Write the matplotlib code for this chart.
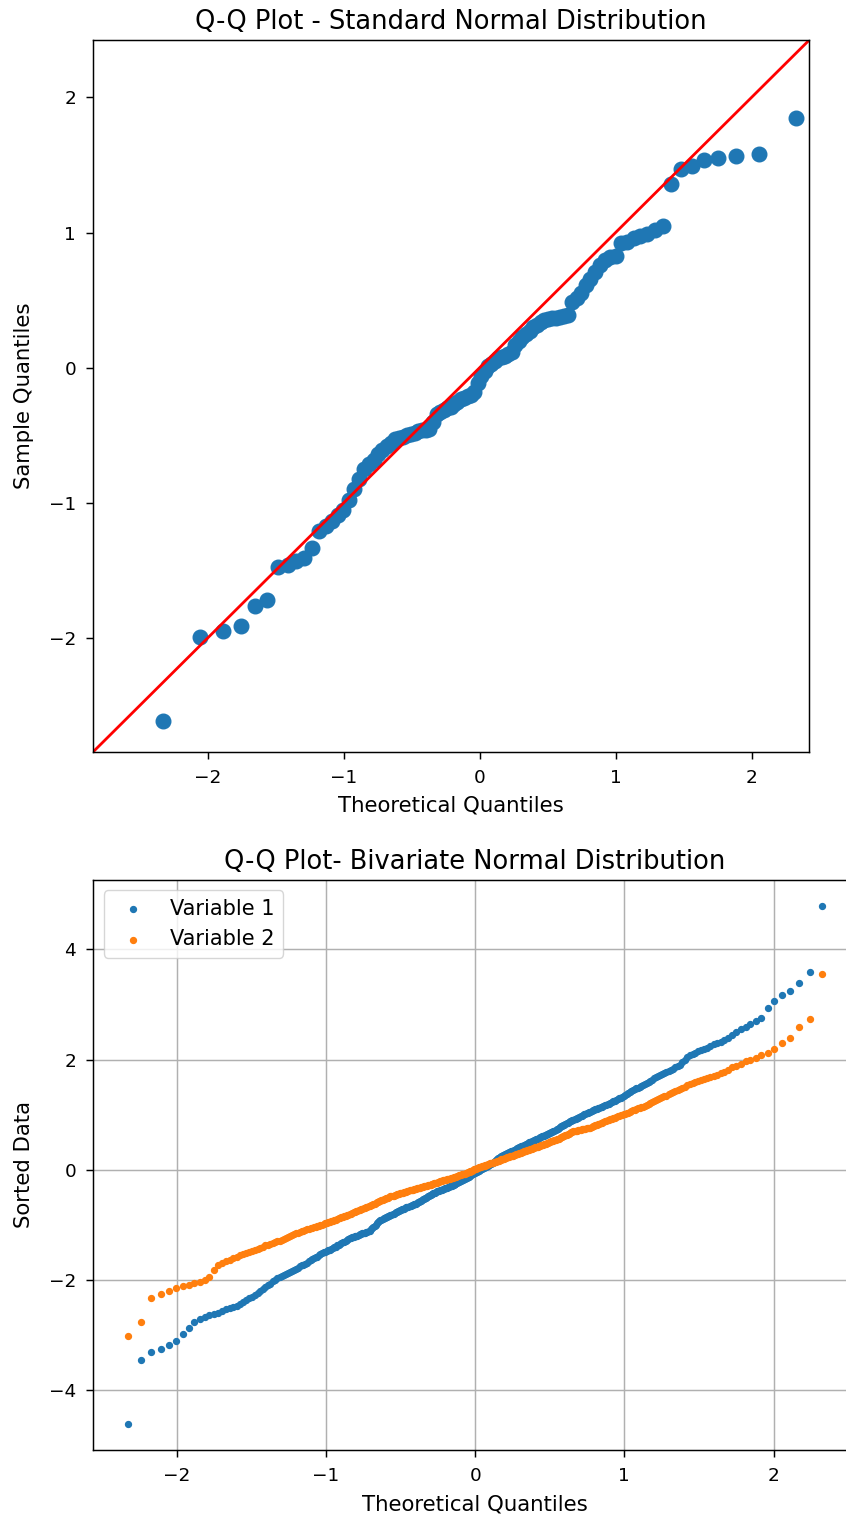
import numpy as np
import matplotlib
matplotlib.use("Agg")
import matplotlib.pyplot as plt
from statistics import NormalDist

# ---------------- data ----------------
# Sorted sample of 100 draws (top panel)
sample_sorted = [
    -2.61, -1.99, -1.95, -1.91, -1.76, -1.72, -1.47, -1.46, -1.43, -1.41,
    -1.33, -1.21, -1.17, -1.13, -1.09, -1.05, -0.98, -0.90, -0.82, -0.75,
    -0.71, -0.68, -0.64, -0.61, -0.58, -0.56, -0.53, -0.52, -0.51, -0.50,
    -0.49, -0.48, -0.47, -0.46, -0.46, -0.45, -0.40, -0.34, -0.33, -0.31,
    -0.30, -0.29, -0.27, -0.25, -0.23, -0.22, -0.21, -0.20, -0.18, -0.11,
    -0.06, -0.02, 0.01, 0.03, 0.05, 0.07, 0.08, 0.09, 0.10, 0.12,
    0.17, 0.20, 0.23, 0.25, 0.27, 0.30, 0.32, 0.34, 0.355, 0.36,
    0.365, 0.37, 0.375, 0.38, 0.39, 0.49, 0.52, 0.55, 0.61, 0.66,
    0.71, 0.76, 0.80, 0.82, 0.83, 0.92, 0.93, 0.96, 0.975, 0.99,
    1.02, 1.05, 1.36, 1.47, 1.49, 1.54, 1.555, 1.57, 1.58, 1.85,
]

# Sorted bivariate sample, one list per variable (bottom panel)
var1_sorted = [
    -4.61, -3.45, -3.31, -3.24, -3.17, -3.11, -2.97, -2.86, -2.76, -2.70,
    -2.67, -2.64, -2.62, -2.59, -2.56, -2.53, -2.51, -2.49, -2.47, -2.43,
    -2.40, -2.36, -2.33, -2.30, -2.27, -2.23, -2.19, -2.16, -2.13, -2.09,
    -2.06, -2.02, -1.99, -1.96, -1.94, -1.92, -1.91, -1.89, -1.87, -1.85,
    -1.83, -1.81, -1.79, -1.77, -1.75, -1.73, -1.72, -1.70, -1.68, -1.66,
    -1.64, -1.62, -1.60, -1.58, -1.57, -1.55, -1.53, -1.51, -1.49, -1.48,
    -1.47, -1.46, -1.45, -1.43, -1.42, -1.40, -1.39, -1.37, -1.36, -1.34,
    -1.33, -1.31, -1.30, -1.28, -1.27, -1.25, -1.24, -1.23, -1.22, -1.21,
    -1.20, -1.19, -1.19, -1.18, -1.17, -1.16, -1.15, -1.14, -1.14, -1.13,
    -1.12, -1.11, -1.10, -1.08, -1.06, -1.03, -1.01, -0.99, -0.97, -0.95,
    -0.93, -0.915, -0.90, -0.89, -0.88, -0.87, -0.86, -0.85, -0.84, -0.83,
    -0.82, -0.81, -0.80, -0.79, -0.78, -0.77, -0.76, -0.75, -0.74, -0.73,
    -0.72, -0.715, -0.71, -0.70, -0.69, -0.68, -0.67, -0.665, -0.66, -0.65,
    -0.64, -0.63, -0.62, -0.615, -0.61, -0.60, -0.59, -0.58, -0.57, -0.555,
    -0.54, -0.53, -0.52, -0.51, -0.50, -0.49, -0.48, -0.47, -0.46, -0.45,
    -0.44, -0.43, -0.42, -0.415, -0.41, -0.40, -0.39, -0.385, -0.38, -0.37,
    -0.36, -0.355, -0.35, -0.34, -0.33, -0.325, -0.32, -0.315, -0.31, -0.30,
    -0.29, -0.285, -0.28, -0.27, -0.26, -0.25, -0.24, -0.23, -0.22, -0.21,
    -0.20, -0.195, -0.19, -0.18, -0.17, -0.16, -0.15, -0.14, -0.13, -0.12,
    -0.11, -0.10, -0.09, -0.08, -0.07, -0.06, -0.05, -0.04, -0.03, -0.02,
    -0.01, 0.00, 0.01, 0.02, 0.03, 0.04, 0.05, 0.055, 0.06, 0.07,
    0.08, 0.09, 0.10, 0.11, 0.12, 0.135, 0.15, 0.165, 0.18, 0.195,
    0.21, 0.22, 0.23, 0.24, 0.25, 0.26, 0.27, 0.28, 0.29, 0.295,
    0.30, 0.31, 0.32, 0.33, 0.34, 0.345, 0.35, 0.36, 0.37, 0.38,
    0.39, 0.40, 0.41, 0.42, 0.43, 0.435, 0.44, 0.45, 0.46, 0.47,
    0.48, 0.49, 0.50, 0.505, 0.51, 0.52, 0.53, 0.54, 0.55, 0.555,
    0.56, 0.57, 0.58, 0.59, 0.60, 0.61, 0.62, 0.625, 0.63, 0.64,
    0.65, 0.66, 0.67, 0.675, 0.68, 0.69, 0.70, 0.71, 0.72, 0.735,
    0.75, 0.765, 0.78, 0.79, 0.80, 0.81, 0.82, 0.835, 0.85, 0.86,
    0.87, 0.88, 0.89, 0.90, 0.91, 0.92, 0.93, 0.94, 0.95, 0.96,
    0.97, 0.985, 1.00, 1.01, 1.02, 1.03, 1.04, 1.05, 1.06, 1.07,
    1.08, 1.09, 1.10, 1.11, 1.12, 1.13, 1.14, 1.15, 1.16, 1.17,
    1.18, 1.19, 1.20, 1.215, 1.23, 1.245, 1.26, 1.275, 1.29, 1.30,
    1.31, 1.325, 1.34, 1.36, 1.38, 1.395, 1.41, 1.43, 1.45, 1.465,
    1.48, 1.495, 1.51, 1.525, 1.54, 1.555, 1.57, 1.595, 1.62, 1.64,
    1.66, 1.68, 1.70, 1.72, 1.74, 1.76, 1.78, 1.80, 1.82, 1.84,
    1.86, 1.885, 1.91, 1.95, 2.00, 2.05, 2.08, 2.11, 2.13, 2.155,
    2.18, 2.20, 2.22, 2.25, 2.28, 2.30, 2.33, 2.36, 2.40, 2.45,
    2.50, 2.55, 2.60, 2.65, 2.70, 2.76, 2.94, 3.07, 3.17, 3.24,
    3.40, 3.60, 4.79,
]

var2_sorted = [
    -3.01, -2.75, -2.32, -2.25, -2.20, -2.15, -2.11, -2.08, -2.05, -2.03,
    -1.99, -1.94, -1.82, -1.72, -1.69, -1.66, -1.63, -1.60, -1.57, -1.545,
    -1.52, -1.505, -1.49, -1.47, -1.45, -1.43, -1.41, -1.39, -1.37, -1.355,
    -1.34, -1.325, -1.31, -1.295, -1.28, -1.265, -1.25, -1.235, -1.22, -1.20,
    -1.18, -1.165, -1.15, -1.135, -1.12, -1.11, -1.10, -1.09, -1.08, -1.07,
    -1.06, -1.05, -1.04, -1.03, -1.02, -1.01, -1.00, -0.99, -0.98, -0.97,
    -0.96, -0.95, -0.94, -0.93, -0.92, -0.91, -0.90, -0.89, -0.88, -0.87,
    -0.86, -0.85, -0.84, -0.83, -0.82, -0.81, -0.80, -0.79, -0.78, -0.77,
    -0.76, -0.75, -0.74, -0.73, -0.72, -0.71, -0.70, -0.695, -0.69, -0.68,
    -0.67, -0.66, -0.65, -0.64, -0.63, -0.62, -0.61, -0.60, -0.59, -0.58,
    -0.57, -0.56, -0.55, -0.54, -0.53, -0.52, -0.51, -0.505, -0.50, -0.49,
    -0.48, -0.475, -0.47, -0.465, -0.46, -0.45, -0.44, -0.435, -0.43, -0.425,
    -0.42, -0.415, -0.41, -0.405, -0.40, -0.395, -0.39, -0.38, -0.37, -0.365,
    -0.36, -0.355, -0.35, -0.345, -0.34, -0.335, -0.33, -0.325, -0.32, -0.315,
    -0.31, -0.305, -0.30, -0.295, -0.29, -0.285, -0.28, -0.275, -0.27, -0.265,
    -0.26, -0.255, -0.25, -0.245, -0.24, -0.235, -0.23, -0.22, -0.21, -0.205,
    -0.20, -0.195, -0.19, -0.185, -0.18, -0.175, -0.17, -0.165, -0.16, -0.155,
    -0.15, -0.145, -0.14, -0.135, -0.13, -0.125, -0.12, -0.115, -0.11, -0.10,
    -0.09, -0.085, -0.08, -0.075, -0.07, -0.065, -0.06, -0.05, -0.04, -0.035,
    -0.03, -0.025, -0.02, -0.01, 0.00, 0.01, 0.02, 0.025, 0.03, 0.04,
    0.05, 0.055, 0.06, 0.065, 0.07, 0.075, 0.08, 0.085, 0.09, 0.095,
    0.10, 0.11, 0.12, 0.125, 0.13, 0.135, 0.14, 0.145, 0.15, 0.155,
    0.16, 0.17, 0.18, 0.185, 0.19, 0.195, 0.20, 0.205, 0.21, 0.22,
    0.23, 0.235, 0.24, 0.245, 0.25, 0.255, 0.26, 0.27, 0.28, 0.285,
    0.29, 0.295, 0.30, 0.305, 0.31, 0.32, 0.33, 0.335, 0.34, 0.35,
    0.36, 0.365, 0.37, 0.375, 0.38, 0.385, 0.39, 0.40, 0.41, 0.415,
    0.42, 0.425, 0.43, 0.44, 0.45, 0.455, 0.46, 0.465, 0.47, 0.48,
    0.49, 0.495, 0.50, 0.51, 0.52, 0.525, 0.53, 0.54, 0.55, 0.555,
    0.56, 0.57, 0.58, 0.59, 0.60, 0.61, 0.62, 0.63, 0.64, 0.65,
    0.66, 0.67, 0.68, 0.69, 0.70, 0.705, 0.71, 0.715, 0.72, 0.725,
    0.73, 0.735, 0.74, 0.745, 0.75, 0.755, 0.76, 0.765, 0.77, 0.78,
    0.79, 0.80, 0.81, 0.82, 0.83, 0.84, 0.85, 0.86, 0.87, 0.88,
    0.89, 0.90, 0.91, 0.92, 0.93, 0.94, 0.95, 0.96, 0.97, 0.98,
    0.99, 1.00, 1.01, 1.02, 1.03, 1.04, 1.05, 1.065, 1.08, 1.09,
    1.10, 1.115, 1.13, 1.14, 1.15, 1.165, 1.18, 1.195, 1.21, 1.23,
    1.25, 1.265, 1.28, 1.30, 1.32, 1.335, 1.35, 1.37, 1.39, 1.41,
    1.43, 1.45, 1.47, 1.49, 1.51, 1.535, 1.56, 1.58, 1.60, 1.62,
    1.64, 1.655, 1.67, 1.69, 1.71, 1.73, 1.75, 1.78, 1.82, 1.86,
    1.89, 1.93, 1.97, 2.00, 2.04, 2.08, 2.13, 2.19, 2.30, 2.40,
    2.60, 2.74, 3.55,
]

series_labels = ["Variable 1", "Variable 2"]
x_ticks = [-2, -1, 0, 1, 2]
top_y_ticks = [-2, -1, 0, 1, 2]
bottom_y_ticks = [-4, -2, 0, 2, 4]

# ---------------- theoretical quantiles ----------------
std_normal = NormalDist()


def plotting_positions(n):
    # i / (n + 1) positions, as used by a standard probability plot
    return np.array([std_normal.inv_cdf(i / (n + 1)) for i in range(1, n + 1)])


def linspace_quantiles(n):
    # evenly spaced probabilities between 1% and 99%
    return np.array([std_normal.inv_cdf(p) for p in np.linspace(0.01, 0.99, n)])


theo_top = plotting_positions(len(sample_sorted))
theo_v1 = linspace_quantiles(len(var1_sorted))
theo_v2 = linspace_quantiles(len(var2_sorted))

# ---------------- styling ----------------
plt.rcParams.update({
    "font.family": "DejaVu Sans",
    "xtick.labelsize": 13.3,
    "ytick.labelsize": 13.3,
    "axes.labelsize": 15.3,
    "axes.titlesize": 18.5,
    "legend.fontsize": 15.0,
    "axes.linewidth": 1.06,
    "xtick.major.width": 1.06,
    "ytick.major.width": 1.06,
    "xtick.major.size": 5.3,
    "ytick.major.size": 5.3,
    "xtick.major.pad": 7.0,
    "ytick.major.pad": 7.0,
    "axes.titlepad": 8.0,
    "grid.linewidth": 1.06,
})

W, H = 846, 1519
fig = plt.figure(figsize=(W / 100, H / 100), dpi=100)


def px_axes(left, top, right, bottom):
    return fig.add_axes([left / W, 1 - bottom / H, (right - left) / W, (bottom - top) / H])


# ---------------- top: Q-Q plot against the standard normal ----------------
ax1 = px_axes(93.3, 40.0, 809.3, 751.7)
ax1.plot(theo_top, sample_sorted, "o", color="#1f77b4", markersize=10.5)
lims = (-2.84, 2.425)
ax1.plot(lims, lims, "-", color="red", linewidth=2.0)
ax1.set_xlim(lims)
ax1.set_ylim(lims)
ax1.set_xticks(x_ticks)
ax1.set_yticks(top_y_ticks)
ax1.set_xlabel("Theoretical Quantiles", labelpad=6.5)
ax1.set_ylabel("Sample Quantiles", labelpad=10.5)
ax1.set_title("Q-Q Plot - Standard Normal Distribution")

# ---------------- bottom: bivariate Q-Q plot ----------------
ax2 = px_axes(93.3, 880.0, 857.0, 1450.0)
ax2.scatter(theo_v1, var1_sorted, s=18, color="#1f77b4", label=series_labels[0])
ax2.scatter(theo_v2, var2_sorted, s=18, color="#ff7f0e", label=series_labels[1])
ax2.set_xticks(x_ticks)
ax2.set_yticks(bottom_y_ticks)
ax2.grid(True, color="#b0b0b0")
ax2.set_axisbelow(True)
ax2.set_xlabel("Theoretical Quantiles", labelpad=6.5)
ax2.set_ylabel("Sorted Data", labelpad=10.5)
ax2.set_title("Q-Q Plot- Bivariate Normal Distribution")
ax2.legend(loc="upper left")

fig.savefig("out.png", dpi=100)
